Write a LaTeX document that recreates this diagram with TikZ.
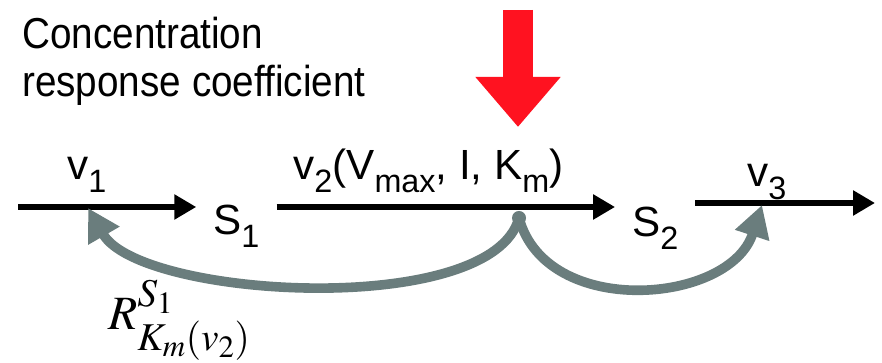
\documentclass[tikz,border=0pt]{standalone}
\usepackage{mathptmx}
\usepackage[no-math]{fontspec}
\setmainfont{Liberation Sans}
\usepackage{tikz}
\usetikzlibrary{positioning,arrows.meta,calc}
\DeclareMathSizes{34}{34}{28}{22}
\definecolor{cRed}{RGB}{255,18,32}
\definecolor{cGrey}{RGB}{106,125,125}
\newcommand{\lowtx}[1]{\raisebox{-0.3em}{\fontsize{23}{23}\selectfont #1}}
\tikzset{
  ttl/.style={font=\fontsize{27.5}{33}\selectfont, inner sep=0pt, anchor=base west,
              yscale=1.12, transform shape},
  lbl/.style={font=\fontsize{30}{36}\selectfont, inner sep=0pt, anchor=base west},
  spc/.style={font=\fontsize{30}{36}\selectfont, inner ysep=0pt, inner xsep=0.42cm, anchor=base},
  rxn/.style={-{Triangle[length=0.55cm,width=0.6cm]}, line width=0.15cm},
  ctrl/.style={-{Triangle[length=0.8cm,width=0.85cm]}, draw=cGrey, line width=0.24cm},
  hit/.style={-{Triangle[length=1.25cm,width=2.05cm]}, draw=cRed, line width=0.75cm},
  knot/.style={circle, fill=cGrey, inner sep=0pt, minimum size=0.35cm},
  resp/.style={font=\fontsize{34}{40}\selectfont, inner sep=0pt, anchor=base west},
}
\begin{document}
\begin{tikzpicture}
  \useasboundingbox (0,0) rectangle (22.05,9.075);
  % --- title ---------------------------------------------------------------
  \node[ttl] (ttl1) at (0.55,7.85) {Concentration};
  \node[ttl] (ttl2) at (0.55,6.65) {response coefficient};

  % --- species and the linear pathway --------------------------------------
  \node[spc] (s1) at (5.91,3.2) {S\lowtx{1}};
  \node[spc] (s2) at (16.38,3.15) {S\lowtx{2}};
  \coordinate (src) at (0.45,3.9);
  \coordinate (snk) at (21.875,4.0);
  \draw[rxn] (src) -- (src -| s1.west);
  \draw[rxn] (src -| s1.east) -- (src -| s2.west);
  \draw[rxn] (snk -| s2.east) -- (snk);

  % --- rate labels ---------------------------------------------------------
  \node[lbl] (v1) at (1.675,4.575) {v\lowtx{1}};
  \node[lbl] (v2) at (7.325,4.575) {v\lowtx{2}(V\lowtx{max}, I, K\lowtx{m})};
  \node[lbl] (v3) at (18.675,4.4) {v\lowtx{3}};

  % --- perturbation of K_m -------------------------------------------------
  \coordinate (push) at (12.95,8.83);
  \coordinate (pushend) at (12.95,5.9);
  \draw[hit] (push) -- (pushend);
  \node[knot] (km) at (12.975,3.625) {};

  % --- responses -----------------------------------------------------------
  \coordinate (v1hit) at (2.2,3.875);
  \coordinate (v3hit) at (19.05,3.95);
  \draw[ctrl] (km.center) to[out=-105,in=-60,looseness=0.62] (v1hit);
  \draw[ctrl] (km.center) to[out=-75,in=-108,looseness=1.1] (v3hit);
  \node[resp] (rlbl) at (2.7,0.825) {$R^{S_1}_{K_m(v_2)}$};
\end{tikzpicture}
\end{document}
